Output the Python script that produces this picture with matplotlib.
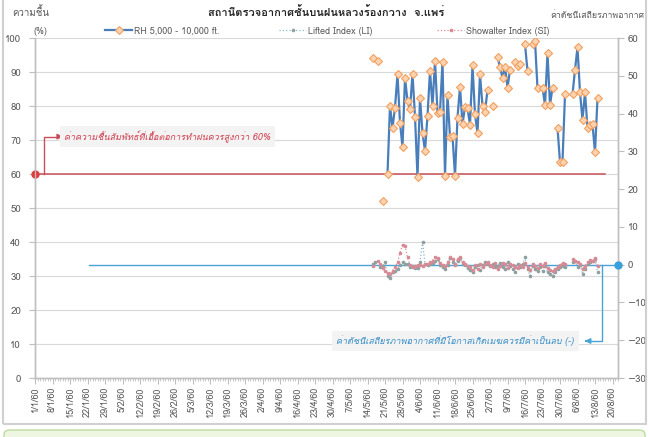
import numpy as np
import matplotlib
matplotlib.use("Agg")
import matplotlib.pyplot as plt
from matplotlib import font_manager as fm
from matplotlib.ft2font import FT2Font
from matplotlib.lines import Line2D
from matplotlib.patches import FancyBboxPatch

# ---- find a font with Thai glyphs ----
thai_font = None
for f in fm.fontManager.ttflist:
    try:
        cm = FT2Font(f.fname).get_charmap()
        if 0x0E04 in cm and 0x0E32 in cm and 0x0E49 in cm:
            thai_font = f.name
            break
    except Exception:
        pass
families = ([thai_font] if thai_font else []) + ["DejaVu Sans"]
plt.rcParams["font.family"] = families

# ---- data ----
tick_days = list(range(0, 232, 7))
tick_labels = ['1/1/60', '8/1/60', '15/1/60', '22/1/60', '29/1/60', '5/2/60', '12/2/60',
               '19/2/60', '26/2/60', '5/3/60', '12/3/60', '19/3/60', '26/3/60', '2/4/60',
               '9/4/60', '16/4/60', '23/4/60', '30/4/60', '7/5/60', '14/5/60', '21/5/60',
               '28/5/60', '4/6/60', '11/6/60', '18/6/60', '25/6/60', '2/7/60', '9/7/60',
               '16/7/60', '23/7/60', '30/7/60', '6/8/60', '13/8/60', '20/8/60']

nan = np.nan
# day index (0 = 1/1/60) from 135 to 225
days = np.arange(135, 226)
rh = [94.2, nan, 93.3, nan, 52.2, nan,
      60.0, 80.0, 73.6, 79.5, 89.3, 75.1, 67.9, 88.3, 81.5, 79.1,
      89.5, 76.9, 59.2, 82.4, 72.1, 66.8, 77.1, 90.3, 80.0, 93.3,
      78.0, 78.3, 93.0, 59.5, 83.2, 71.0, 71.3, 59.4, 76.6, 85.7,
      74.6, 79.8, 79.4, 74.4, 92.0, 77.6, 72.0, 89.3, 80.1, 78.3,
      84.7, nan, 80.0, nan,
      94.5, 91.4, 88.3, 91.6, 85.4, 90.6, nan,
      92.8, 91.9, 92.3, nan, 98.2, 90.3, nan,
      98.2, 99.1, 85.2, nan, 85.4, 80.3, 95.5, 80.3, 85.4, nan,
      73.5, 63.6, 63.6, 83.4, nan, nan,
      83.4, 90.6, 97.3, 84.0, 75.9, 84.0, 73.6, 74.4, 74.6, 66.4, 82.3]

li = [0.2, 0.8, nan, -0.5, -0.4, 0.8, -2.9, -3.6, -2.0, -1.8,
      -1.1, 0.0, 0.6, 0.2, 0.2, -0.5, -0.3, -0.8, -0.8, 0.8,
      6.0, 0.2, 0.0, 0.2, 0.4, 1.0, 1.5, -0.1, -0.7, -1.2,
      0.0, 1.7, 0.8, 0.2, 1.0, 1.7, 0.2, 0.0, -1.0, -1.3,
      -2.0, -0.7, -0.2, -1.3, 0.0, 0.6, 0.2, -0.3, 0.2, -0.6,
      -0.3, 0.4, -0.6, -1.1, 0.6, -0.3, -1.1, -2.0, 0.2, -0.7,
      0.1, 1.9, -1.1, -2.9, -0.3, -1.1, -1.8, -0.7, -1.6, -0.4,
      -2.0, -2.5, -2.9, -1.9, -1.1, -0.7, -0.3, -0.6, nan, nan,
      0.6, 1.1, -0.5, 0.0, -2.5, -1.1, 0.2, 0.6, 1.0, 1.5, -2.0]

si = [-0.3, nan, 1.0, 0.3, -0.8, -1.8, -2.2, -2.5, -1.6, -0.7,
      0.6, 3.2, 5.2, 5.0, 1.9, 0.0, -0.6, -0.4, 0.0, 0.0,
      -0.4, 0.2, 0.2, 0.6, 1.1, 2.0, 1.7, 0.4, 0.0, -0.4,
      0.6, 2.0, 1.5, -0.2, 1.5, 2.0, 0.6, 0.2, -0.3, -0.7,
      -1.3, 0.0, -1.1, 0.2, -0.7, 0.2, 0.8, 0.0, -0.6, 0.4,
      -1.2, -0.3, 0.4, 0.1, -0.8, 0.2, -0.2, -0.6, -1.0, 0.0,
      -0.5, 0.5, -0.5, -1.5, 0.3, -0.4, -0.8, 0.2, -0.4, 0.5,
      -1.0, -1.5, -1.8, -1.2, -0.6, 0.0, 0.4, 0.3, nan, nan,
      1.5, 1.0, 0.8, 0.3, -1.2, -0.3, 0.8, 1.2, 1.0, 1.7, -0.3]

rh_threshold = 60
stab_threshold = 0

# ---- figure ----
W, H = 649, 437
fig = plt.figure(figsize=(W / 100, H / 100), dpi=100)
ax = fig.add_axes([35 / W, 1 - 378 / H, (618 - 35) / W, (378 - 38) / H])
ax2 = ax.twinx()

gray = '#595959'
spine_c = '#bfbfbf'

ax.set_xlim(0, 233.2)
ax.set_ylim(0, 100)
ax2.set_ylim(-30, 60)

ax.set_yticks(range(0, 101, 10))
ax2.set_yticks(range(-30, 61, 10))
ax.grid(axis='y', color='#d9d9d9', lw=0.8)
ax.set_axisbelow(True)

ax.set_xticks(tick_days)
ax.set_xticklabels(tick_labels, rotation=90, fontsize=6.5, color=gray)
ax.set_xticks(np.arange(0, 234, 1), minor=True)
ax.tick_params(axis='x', which='major', length=4, color=spine_c, pad=2)
ax.tick_params(axis='x', which='minor', length=2, color=spine_c)
ax.tick_params(axis='y', length=4, color=spine_c, labelsize=7, labelcolor=gray, pad=6)
ax2.tick_params(axis='y', length=4, color=spine_c, labelsize=7, labelcolor=gray, pad=3)

for a in (ax, ax2):
    a.spines['top'].set_visible(False)
    for s in ('left', 'right', 'bottom'):
        a.spines[s].set_color(spine_c)
        a.spines[s].set_linewidth(1.0)

# data series
rh_style = dict(color='#4a7ebb', lw=1.6, marker='D', ms=3.8, mfc='#fbd3b0', mec='#f0a060', mew=0.8)
li_style = dict(color='#8fb8cc', lw=0.9, ls=':', marker='o', ms=1.6, mfc='#8ea0a0', mec='#8ea0a0')
si_style = dict(color='#e08a96', lw=0.9, ls=':', marker='o', ms=1.6, mfc='#d88a94', mec='#d88a94')
ax.plot(days, rh, zorder=4, **rh_style)
ax2.plot(days, li, zorder=3, **li_style)
ax2.plot(days, si, zorder=3, **si_style)

# RH threshold line & annotation
red = '#c9505a'
ax.plot([0, 228], [rh_threshold, rh_threshold], color=red, lw=1.1, zorder=2)
ax.plot([0], [rh_threshold], 'o', color='#e03c3c', ms=5, clip_on=False, zorder=5)
ax.plot([3.5, 3.5, 9.5], [rh_threshold, 71, 71], color=red, lw=1.0, zorder=2)
ax.annotate('', xy=(11.2, 71), xytext=(9.0, 71),
            arrowprops=dict(arrowstyle='-|>', color=red, lw=1.0, mutation_scale=8))
ax.text(11.8, 71, 'ค่าความชื้นสัมพัทธ์ที่เอื้อต่อการทำฝนควรสูงกว่า 60%', color='#d04050',
        fontsize=6.5, style='italic', va='center', ha='left',
        bbox=dict(boxstyle='square,pad=0.5', fc='#f3f3f3', ec='none'))

# Stability threshold line & annotation
blue = '#4aa3d8'
ax2.plot([21.5, 233.2], [stab_threshold, stab_threshold], color=blue, lw=1.0, zorder=2)
ax2.plot([233.2], [stab_threshold], 'o', color='#3aa0dc', ms=5, clip_on=False, zorder=5)
ax2.plot([226.8, 226.8, 221.0], [stab_threshold, -20.2, -20.2], color=blue, lw=1.0)
ax2.annotate('', xy=(218.8, -20.2), xytext=(221.5, -20.2),
             arrowprops=dict(arrowstyle='-|>', color=blue, lw=1.0, mutation_scale=8))
ax2.text(215.6, -20.2, 'ค่าดัชนีเสถียรภาพอากาศที่มีโอกาสเกิดเมฆควรมีค่าเป็นลบ (-)', color='#3a8fc8',
         fontsize=6.5, style='italic', va='center', ha='right',
         bbox=dict(boxstyle='square,pad=0.5', fc='#f3f3f3', ec='none'))

# titles
fig.text(326 / W, 1 - 12 / H, 'สถานีตรวจอากาศชั้นบนฝนหลวงร้องกวาง  จ.แพร่', ha='center', va='center',
         fontsize=8, fontweight='bold', color='#262626')
fig.text(31 / W, 1 - 12 / H, 'ความชื้น', ha='center', va='center', fontsize=7, color=gray)
fig.text(40 / W, 1 - 31 / H, '(%)', ha='center', va='center', fontsize=6.5, color=gray)
fig.text(644 / W, 1 - 15 / H, 'ค่าดัชนีเสถียรภาพอากาศ', ha='right', va='center', fontsize=6.3, color=gray)

# legend (three entries placed like the reference)
labels = ['RH 5,000 - 10,000 ft.', 'Lifted Index (LI)', 'Showalter Index (SI)']
styles = [rh_style, li_style, si_style]
lefts = [105, 279, 437]
for lab, st, x0 in zip(labels, styles, lefts):
    h = Line2D([], [], **st)
    leg = fig.legend([h], [lab], loc='center left', bbox_to_anchor=(x0 / W, 1 - 31 / H),
                     frameon=False, fontsize=6.5, handlelength=3.0, handletextpad=0.2,
                     borderpad=0, borderaxespad=0, labelcolor=gray)

# frame and green box
fig.patches.append(FancyBboxPatch((3 / W, 13 / H), 643 / W, 440 / H,
                                  boxstyle='square,pad=0', fc='none', ec='#d0d0d0', lw=1.5,
                                  transform=fig.transFigure, figure=fig))
fig.patches.append(FancyBboxPatch((4 / W, -5 / H), 641 / W, 12 / H,
                                  boxstyle='round,pad=0,rounding_size=0.01', fc='#eef6e2', ec='#bcdca0', lw=1.0,
                                  transform=fig.transFigure, figure=fig))

fig.savefig('out.png', dpi=100)
